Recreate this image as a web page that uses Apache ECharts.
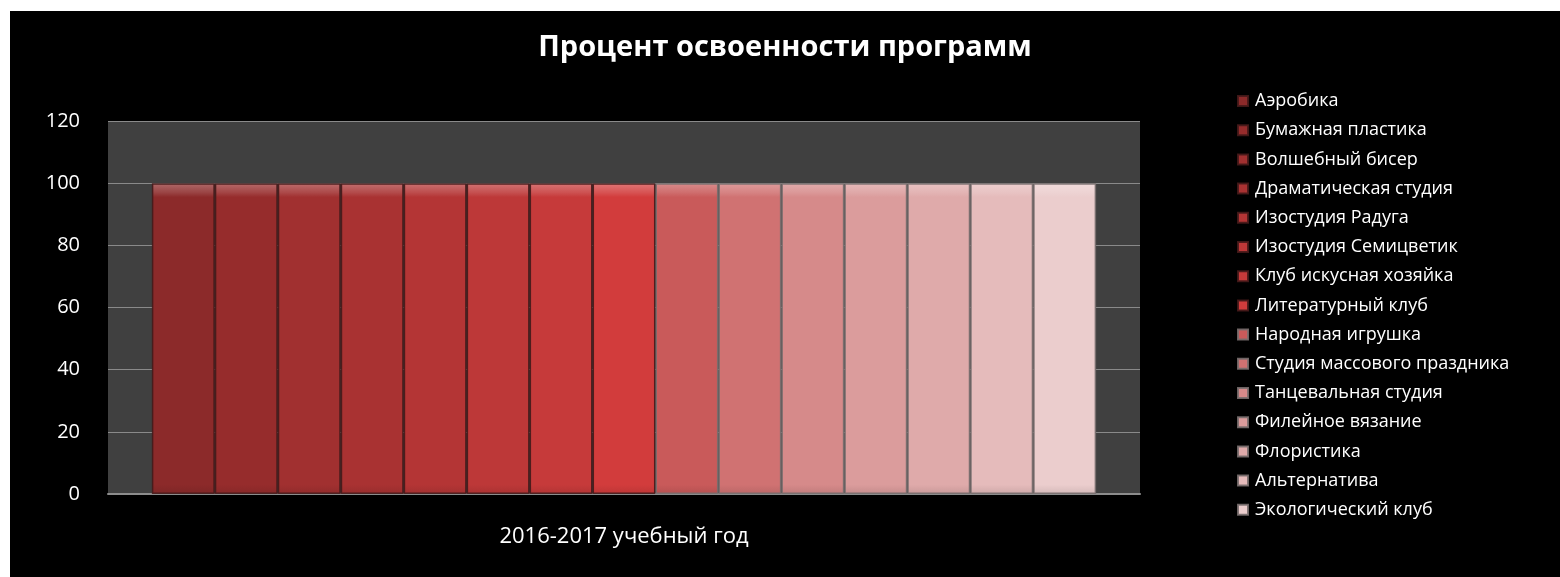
<!DOCTYPE html>
<html>
<head>
<meta charset="utf-8">
<script src="https://cdn.jsdelivr.net/npm/echarts@6/dist/echarts.min.js"></script>
<style>
html,body{margin:0;padding:0;background:#fff;width:1560px;height:577px;overflow:hidden;}
#c{position:absolute;left:10px;top:11px;width:1550px;height:566px;background:#000;}
</style>
</head>
<body>
<div id="c"></div>
<script>
const titleText = 'Процент освоенности программ';
const categories = ['2016-2017 учебный год'];
const seriesNames = ['Аэробика','Бумажная пластика','Волшебный бисер','Драматическая студия','Изостудия Радуга','Изостудия Семицветик','Клуб искусная хозяйка','Литературный клуб','Народная игрушка','Студия массового праздника','Танцевальная студия','Филейное вязание','Флористика','Альтернатива','Экологический клуб'];
const seriesValues = [100,100,100,100,100,100,100,100,100,100,100,100,100,100,100];
const yTicks = {min:0, max:120, interval:20};
const colors = ['#8c2a2a','#962c2c','#a13030','#a93232','#b43535','#bd3838','#c63a3a','#d23c3c','#c95a5a','#d07272','#d68a8a','#db9c9c','#dfaaaa','#e5bbbb','#ebcdcd'];

function shade(hex, f){
  const n=parseInt(hex.slice(1),16);
  let r=(n>>16)&255,g=(n>>8)&255,b=n&255;
  if (f<=1){ r=Math.round(r*f); g=Math.round(g*f); b=Math.round(b*f); }
  else { const t=f-1; r=Math.round(r+(255-r)*t); g=Math.round(g+(255-g)*t); b=Math.round(b+(255-b)*t); }
  return 'rgb('+r+','+g+','+b+')';
}

const chart = echarts.init(document.getElementById('c'));
const series = seriesNames.map((name,i)=>({
  name: name,
  type: 'bar',
  data: [seriesValues[i]],
  barGap: '0%',
  barCategoryGap: '8.5%',
  itemStyle: {
    color: {type:'linear',x:0,y:0,x2:0,y2:1,colorStops:[
      {offset:0,color:shade(colors[i],1.3)},
      {offset:0.03,color:shade(colors[i],1.12)},
      {offset:0.045,color:colors[i]},
      {offset:0.97,color:colors[i]},
      {offset:1,color:shade(colors[i],0.9)}
    ]},
    borderColor: i<8 ? 'rgba(70,25,25,0.9)' : 'rgba(120,110,110,0.9)',
    borderWidth: 1.5
  }
}));

chart.setOption({
  backgroundColor: '#000',
  animation: false,
  color: colors,
  title: {
    text: titleText, left: 'center', top: 17,
    textStyle: {color:'#fff', fontSize: 29, fontWeight: 'bold', fontFamily: 'Open Sans'}
  },
  legend: {
    orient: 'vertical', left: 1222, top: 76,
    itemWidth: 10, itemHeight: 10, itemGap: 11.2,
    icon: 'rect',
    textStyle: {color:'#fff', fontSize: 18, fontFamily: 'Open Sans', padding:[0,0,0,2]},
    data: seriesNames
  },
  grid: {left: 98, right: 420, top: 110, bottom: 83, show: true, backgroundColor: '#404040', borderWidth: 0},
  xAxis: {
    type: 'category', data: categories,
    axisLine: {lineStyle: {color: '#8c8c8c', width: 2}},
    axisTick: {show: false},
    axisLabel: {color:'#fff', fontSize: 22, fontFamily: 'Open Sans', margin: 32}
  },
  yAxis: {
    type: 'value', min: yTicks.min, max: yTicks.max, interval: yTicks.interval,
    axisLine: {show: false}, axisTick: {show: false},
    splitLine: {lineStyle: {color: '#8a8a8a', width: 1}},
    axisLabel: {color:'#fff', fontSize: 20, fontFamily: 'Open Sans', margin: 28}
  },
  series: series
});
</script>
</body>
</html>
